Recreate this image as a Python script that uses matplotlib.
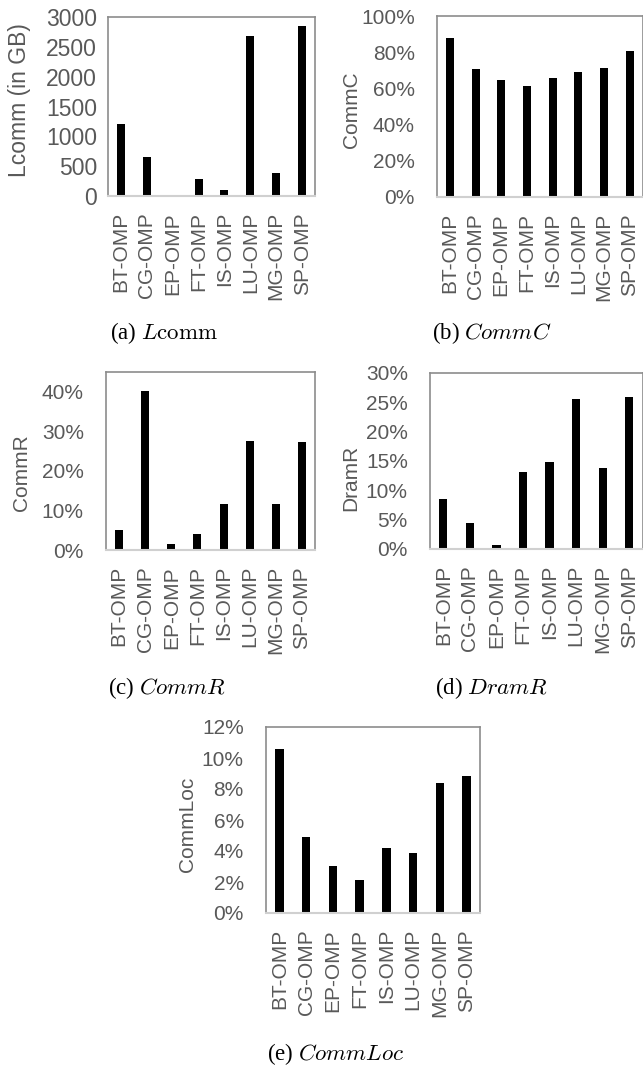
import matplotlib
matplotlib.use('Agg')
import matplotlib.pyplot as plt
from matplotlib.ticker import PercentFormatter, MultipleLocator

plt.rcParams['font.family'] = ['Liberation Sans', 'DejaVu Sans']
plt.rcParams['mathtext.fontset'] = 'cm'

benchmarks = ['BT-OMP', 'CG-OMP', 'EP-OMP', 'FT-OMP', 'IS-OMP', 'LU-OMP', 'MG-OMP', 'SP-OMP']

lcomm_gb = [1210, 660, 15, 285, 100, 2685, 385, 2845]
comm_c = [88.0, 70.7, 64.8, 61.1, 65.6, 69.3, 71.3, 80.9]
comm_r = [5.0, 40.2, 1.5, 4.0, 11.6, 27.6, 11.6, 27.2]
dram_r = [8.5, 4.5, 0.7, 13.2, 14.9, 25.6, 13.8, 25.9]
comm_loc = [10.6, 4.93, 3.04, 2.12, 4.18, 3.9, 8.36, 8.85]

W, H = 643, 1065
TEXT = '#595959'
fig = plt.figure(figsize=(W / 100, H / 100), dpi=100)


def px_axes(left, top, right, bottom):
    return fig.add_axes([left / W, 1 - bottom / H, (right - left) / W, (bottom - top) / H])


def bar_panel(rect, values, ylim, step, ylabel, label_xy, caption, cap_xy,
              percent=True, ypad=16, fs=15):
    ax = px_axes(*rect)
    x = range(len(benchmarks))
    ax.bar(x, values, width=0.31, color='black', zorder=3)
    ax.set_xlim(-0.5, len(benchmarks) - 0.5)
    ax.set_ylim(0, ylim)
    ax.yaxis.set_major_locator(MultipleLocator(step))
    if percent:
        ax.yaxis.set_major_formatter(PercentFormatter(xmax=100, decimals=0))
    ax.set_xticks(list(x))
    ax.set_xticklabels(benchmarks, rotation=90)
    ax.tick_params(axis='x', length=0, pad=11.5, labelsize=15, labelcolor=TEXT)
    ax.tick_params(axis='y', length=0, pad=ypad, labelsize=fs, labelcolor=TEXT)
    for side in ['top', 'left', 'right']:
        ax.spines[side].set_color('#8c8c8c')
        ax.spines[side].set_linewidth(1.2)
    ax.spines['bottom'].set_color('#d0d0d0')
    ax.spines['bottom'].set_linewidth(1.5)
    ax.spines['bottom'].set_zorder(4)
    fig.text(label_xy[0] / W, 1 - label_xy[1] / H, ylabel, rotation=90,
             ha='center', va='center', fontsize=fs, color=TEXT)
    fig.text(cap_xy[0] / W, 1 - cap_xy[1] / H, caption, ha='center', va='center',
             fontsize=16.5, family=['Liberation Serif', 'DejaVu Serif'], color='black')
    return ax


bar_panel((108, 17, 315, 196), lcomm_gb, 3000, 500, 'Lcomm (in GB)', (20, 100),
          r'(a) $L\mathrm{comm}$', (164, 333), percent=False, ypad=8, fs=16.5)
bar_panel((437, 16, 642.5, 197), comm_c, 100, 20, 'CommC', (352, 110),
          r'(b) $CommC$', (492, 333))
bar_panel((106, 372, 315, 550), comm_r, 45, 10, 'CommR', (22, 473),
          r'(c) $CommR$', (167, 688))
bar_panel((430, 373, 642.5, 549), dram_r, 30, 5, 'DramR', (351, 478),
          r'(d) $DramR$', (492, 688))
bar_panel((266, 727, 480, 913), comm_loc, 12, 2, 'CommLoc', (187, 824),
          r'(e) $CommLoc$', (336, 1054))

fig.savefig('out.png', dpi=100)
